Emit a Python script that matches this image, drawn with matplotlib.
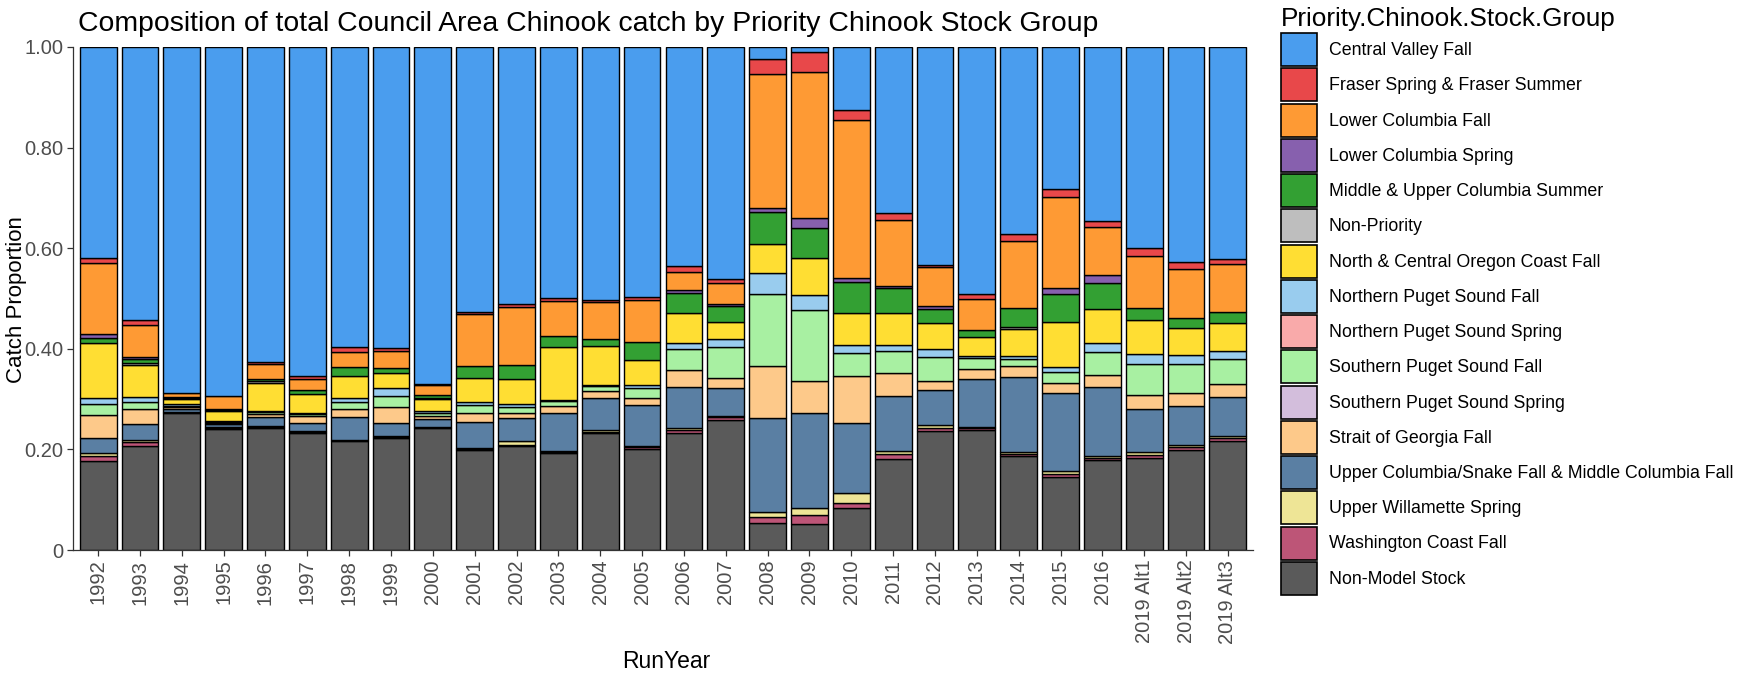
import matplotlib
matplotlib.use("Agg")
import matplotlib.pyplot as plt
import numpy as np

plt.rcParams['font.family'] = ['Liberation Sans', 'DejaVu Sans']

run_years = ["1992", "1993", "1994", "1995", "1996", "1997", "1998", "1999", "2000",
             "2001", "2002", "2003", "2004", "2005", "2006", "2007", "2008", "2009",
             "2010", "2011", "2012", "2013", "2014", "2015", "2016",
             "2019 Alt1", "2019 Alt2", "2019 Alt3"]

# Stock group proportions per RunYear (same order as run_years)
central_valley_fall = [0.4185, 0.543, 0.687, 0.693, 0.626, 0.654, 0.597, 0.599, 0.669,
                       0.526, 0.510, 0.499, 0.502, 0.497, 0.435, 0.462, 0.024, 0.010,
                       0.126, 0.330, 0.433, 0.492, 0.372, 0.282, 0.345, 0.400, 0.427, 0.421]
fraser_spring_summer = [0.0115, 0.010, 0.0, 0.0, 0.004, 0.007, 0.009, 0.005, 0.003,
                        0.005, 0.007, 0.005, 0.004, 0.006, 0.012, 0.008, 0.030, 0.040,
                        0.020, 0.013, 0.005, 0.008, 0.013, 0.017, 0.012, 0.016, 0.014, 0.011]
lower_columbia_fall = [0.140, 0.064, 0.008, 0.026, 0.030, 0.021, 0.031, 0.034, 0.020,
                       0.103, 0.115, 0.071, 0.074, 0.084, 0.036, 0.041, 0.267, 0.289,
                       0.313, 0.132, 0.076, 0.062, 0.134, 0.180, 0.096, 0.103, 0.098, 0.094]
lower_columbia_spring = [0.009, 0.003, 0.0, 0.0, 0.0, 0.0, 0.0, 0.0, 0.0,
                         0.0, 0.0, 0.0, 0.0, 0.0, 0.007, 0.004, 0.008, 0.020,
                         0.009, 0.004, 0.007, 0.0, 0.0, 0.012, 0.016, 0.0, 0.0, 0.0]
mid_upper_columbia_summer = [0.009, 0.008, 0.003, 0.002, 0.005, 0.008, 0.017, 0.010, 0.005,
                             0.024, 0.028, 0.022, 0.014, 0.035, 0.038, 0.031, 0.062, 0.060,
                             0.061, 0.050, 0.028, 0.015, 0.038, 0.056, 0.051, 0.024, 0.020, 0.022]
non_priority = [0.0, 0.004, 0.002, 0.002, 0.002, 0.0, 0.0, 0.0, 0.002,
                0.0, 0.0, 0.0, 0.0, 0.0, 0.0, 0.0, 0.0, 0.0,
                0.0, 0.0, 0.0, 0.0, 0.003, 0.0, 0.0, 0.0, 0.0, 0.0]
nc_oregon_coast_fall = [0.109, 0.063, 0.010, 0.021, 0.056, 0.037, 0.044, 0.030, 0.025,
                        0.048, 0.050, 0.104, 0.077, 0.050, 0.060, 0.035, 0.058, 0.075,
                        0.063, 0.064, 0.052, 0.037, 0.054, 0.089, 0.068, 0.068, 0.054, 0.056]
n_puget_sound_fall = [0.013, 0.010, 0.003, 0.002, 0.002, 0.003, 0.007, 0.015, 0.003,
                      0.005, 0.005, 0.002, 0.002, 0.006, 0.013, 0.015, 0.043, 0.028,
                      0.017, 0.011, 0.015, 0.004, 0.007, 0.010, 0.018, 0.020, 0.017, 0.016]
n_puget_sound_spring = [0.0] * 28
s_puget_sound_fall = [0.021, 0.015, 0.003, 0.002, 0.005, 0.004, 0.015, 0.022, 0.006,
                      0.017, 0.012, 0.010, 0.011, 0.020, 0.041, 0.062, 0.142, 0.143,
                      0.045, 0.044, 0.049, 0.022, 0.013, 0.021, 0.046, 0.061, 0.057, 0.050]
s_puget_sound_spring = [0.0] * 28
strait_of_georgia_fall = [0.046, 0.030, 0.003, 0.002, 0.005, 0.013, 0.015, 0.033, 0.007,
                          0.017, 0.011, 0.015, 0.013, 0.014, 0.033, 0.020, 0.103, 0.063,
                          0.094, 0.045, 0.016, 0.020, 0.022, 0.021, 0.023, 0.028, 0.026, 0.025]
upper_columbia_snake = [0.031, 0.031, 0.007, 0.006, 0.018, 0.017, 0.046, 0.026, 0.015,
                        0.052, 0.046, 0.076, 0.065, 0.081, 0.082, 0.056, 0.188, 0.189,
                        0.139, 0.110, 0.070, 0.096, 0.150, 0.155, 0.138, 0.086, 0.078, 0.078]
upper_willamette_spring = [0.005, 0.005, 0.0, 0.002, 0.002, 0.001, 0.001, 0.001, 0.001,
                           0.002, 0.007, 0.002, 0.003, 0.003, 0.005, 0.001, 0.009, 0.013,
                           0.020, 0.007, 0.007, 0.002, 0.003, 0.006, 0.004, 0.005, 0.005, 0.005]
washington_coast_fall = [0.011, 0.008, 0.002, 0.002, 0.002, 0.002, 0.002, 0.002, 0.002,
                         0.002, 0.002, 0.002, 0.003, 0.004, 0.006, 0.006, 0.013, 0.018,
                         0.010, 0.010, 0.005, 0.003, 0.004, 0.005, 0.004, 0.007, 0.006, 0.005]
non_model_stock = [0.176, 0.206, 0.272, 0.240, 0.243, 0.233, 0.216, 0.223, 0.242,
                   0.199, 0.207, 0.192, 0.232, 0.200, 0.232, 0.259, 0.053, 0.052,
                   0.083, 0.180, 0.237, 0.239, 0.187, 0.146, 0.179, 0.182, 0.198, 0.217]

# Legend order (top of stack first)
group_names = ["Central Valley Fall", "Fraser Spring & Fraser Summer", "Lower Columbia Fall",
               "Lower Columbia Spring", "Middle & Upper Columbia Summer", "Non-Priority",
               "North & Central Oregon Coast Fall", "Northern Puget Sound Fall",
               "Northern Puget Sound Spring", "Southern Puget Sound Fall",
               "Southern Puget Sound Spring", "Strait of Georgia Fall",
               "Upper Columbia/Snake Fall & Middle Columbia Fall", "Upper Willamette Spring",
               "Washington Coast Fall", "Non-Model Stock"]
group_values = [central_valley_fall, fraser_spring_summer, lower_columbia_fall,
                lower_columbia_spring, mid_upper_columbia_summer, non_priority,
                nc_oregon_coast_fall, n_puget_sound_fall, n_puget_sound_spring,
                s_puget_sound_fall, s_puget_sound_spring, strait_of_georgia_fall,
                upper_columbia_snake, upper_willamette_spring, washington_coast_fall,
                non_model_stock]
group_colors = ["#4A9DEE", "#E8484A", "#FE9A34", "#8760AE", "#33A033", "#BEBEBE",
                "#FFDE33", "#99CCEE", "#F9AAAA", "#A8F0A2", "#D3BEDC", "#FDC98A",
                "#5A7FA3", "#EEE596", "#BD5577", "#5A5A5A"]

W, H = 1748, 678
fig = plt.figure(figsize=(W / 100, H / 100), dpi=100)
ax = fig.add_axes([73 / W, 1 - 550 / H, (1253 - 73) / W, (550 - 47) / H])

x = np.arange(len(run_years))
bottom = np.zeros(len(run_years))
handles = {}
# stack from bottom (last legend entry) to top (first legend entry)
for name, vals, col in reversed(list(zip(group_names, group_values, group_colors))):
    v = np.array(vals, dtype=float)
    mask = v > 0
    if mask.any():
        ax.bar(x[mask], v[mask], bottom=bottom[mask], width=0.88, color=col,
               edgecolor="black", linewidth=1.0)
    bottom = bottom + v
    handles[name] = plt.Rectangle((0, 0), 1, 1, facecolor=col, edgecolor="black",
                                  linewidth=1.2)

ax.set_xlim(-0.6, len(run_years) - 0.4)
ax.set_ylim(0, 1)
ax.set_yticks([0, 0.2, 0.4, 0.6, 0.8, 1.0])
ax.set_yticklabels(["0", "0.20", "0.40", "0.60", "0.80", "1.00"])
ax.set_xticks(x)
ax.set_xticklabels(run_years, rotation=90, va="top", ha="center")
ax.tick_params(axis="both", colors="#333333", labelcolor="#4D4D4D", labelsize=14.5,
               length=4, width=0.9, pad=3)
for s in ["top", "right"]:
    ax.spines[s].set_visible(False)
for s in ["left", "bottom"]:
    ax.spines[s].set_color("#333333")
    ax.spines[s].set_linewidth(0.9)

fig.text(666 / W, 1 - 662 / H, "RunYear", fontsize=16.5, ha="center", va="center")
fig.text(17 / W, 1 - 300 / H, "Catch Proportion", fontsize=16, ha="center", va="center",
         rotation=90)
fig.text(78 / W, 1 - 24 / H, "Composition of total Council Area Chinook catch by Priority Chinook Stock Group",
         fontsize=20.4, ha="left", va="center")

leg = fig.legend([handles[n] for n in group_names], group_names,
                 loc="upper left", bbox_to_anchor=(1281 / W, 1 - 7 / H),
                 borderaxespad=0, borderpad=0,
                 frameon=False, fontsize=12.8, title="Priority.Chinook.Stock.Group",
                 title_fontsize=18.8, handlelength=2.05, handleheight=2.48,
                 labelspacing=0.125, handletextpad=0.65, alignment="left")

fig.savefig("out.png", dpi=100)
